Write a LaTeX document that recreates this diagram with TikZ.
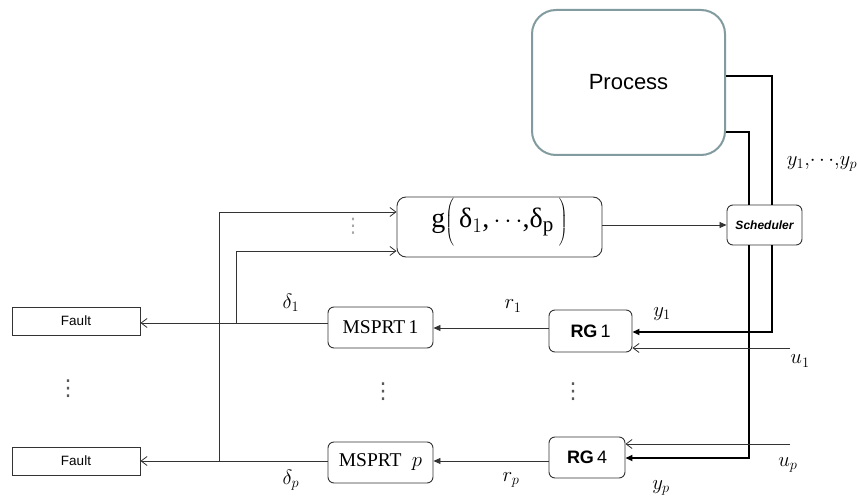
\documentclass[tikz,border=0pt]{standalone}
\usepackage{fontspec}
\usetikzlibrary{arrows.meta}
\newfontfamily\arialf{Liberation Sans}
\newfontfamily\timesf{Liberation Serif}
\newfontfamily\dejavuf{DejaVu Sans}
\newcommand{\bigparL}{$\left(\rule[-18pt]{0pt}{40pt}\right.$}
\newcommand{\bigparR}{$\left.\rule[-18pt]{0pt}{40pt}\right)$}
\tikzset{
  box/.style={draw=black!80, line width=0.9pt, rounded corners=6pt, inner sep=0pt},
  faultbox/.style={draw=black!80, line width=0.9pt, inner sep=0pt, minimum width=128pt, minimum height=28pt, font=\arialf\fontsize{13.5}{15}\selectfont},
  thin/.style={draw=black!80, line width=0.8pt},
  thick/.style={draw=black, line width=2.6pt},
  openarr/.style={-{Straight Barb[length=6pt,width=9pt]}},
  fillarr/.style={-{Triangle[length=7pt,width=6pt]}},
  lbl/.style={font=\fontsize{20}{22}\selectfont, inner sep=0pt},
  vdotsn/.style={font=\dejavuf\fontsize{22}{24}\selectfont, inner sep=0pt, text=black!65}
}
\begin{document}
\begin{tikzpicture}[x=1pt,y=-1pt]
\useasboundingbox[fill=white] (0,0) rectangle (857,497);
% nodes
\node[draw={rgb,255:red,130;green,155;blue,158}, line width=2pt, rounded corners=24pt, minimum width=193pt, minimum height=145pt, inner sep=0pt, font=\arialf\fontsize{22}{25}\selectfont] (proc) at (628.5,82.5) {Process};
\node[box, minimum width=75pt, minimum height=40pt, font=\arialf\bfseries\itshape\fontsize{12}{14}\selectfont] (sch) at (764.5,225) {Scheduler};
\node[box, rounded corners=9pt, minimum width=205pt, minimum height=60pt, text height=22pt, text depth=20pt, font=\timesf\fontsize{28}{32}\selectfont] (g) at (499.5,227) {g\bigparL\kern4pt\mbox{δ}$_1$,$\,\cdots$,\mbox{δ}$_{\mbox{\fontsize{21}{24}\selectfont p}}$\kern4pt\bigparR};
\node[box, minimum width=83pt, minimum height=42pt, font=\arialf\fontsize{18}{20}\selectfont] (rg1) at (590.5,331) {\textbf{RG}\,1};
\node[box, minimum width=76pt, minimum height=41pt, font=\arialf\fontsize{18}{20}\selectfont] (rg4) at (587,457.5) {\textbf{RG}\,4};
\node[box, minimum width=105pt, minimum height=41pt, font=\timesf\fontsize{19.5}{22}\selectfont] (ms1) at (380.5,327.5) {MSPRT\,1};
\node[box, minimum width=105pt, minimum height=41pt, font=\timesf\fontsize{19.5}{22}\selectfont] (msp) at (380.5,462.5) {MSPRT\; $p$};
\node[faultbox] (f1) at (76,321) {Fault};
\node[faultbox] (fp) at (76,461) {Fault};
% coordinates
\coordinate (a1) at (772,76);
\coordinate (a2) at (749,132);
\coordinate (b1) at (772,332);
\coordinate (b2) at (749,458);
\coordinate (u1s) at (790,348);
\coordinate (ups) at (790,444);
\coordinate (j1) at (236,323);
\coordinate (j2) at (219,461);
\coordinate (k1) at (236,251);
\coordinate (k2) at (219,212);
% thick lines
\draw[thick] (proc.east |- a1) -- (a1) -- (a1 |- sch.north);
\draw[thick] (proc.east |- a2) -- (a2) -- (a2 |- sch.north);
\draw[thick, fillarr] (a1 |- sch.south) -- (b1) -- (rg1.east |- b1);
\draw[thick, fillarr] (a2 |- sch.south) -- (b2) -- (rg4.east |- b2);
% u arrows
\draw[thin, openarr] (u1s) -- (rg1.east |- u1s);
\draw[thin, openarr] (ups) -- (rg4.east |- ups);
% r arrows
\draw[thin, fillarr] (rg1.west |- 0,328) -- (ms1.east |- 0,328);
\draw[thin, fillarr] (rg4.west |- 0,461) -- (msp.east |- 0,461);
% delta arrows
\draw[thin, openarr] (ms1.west |- j1) -- (f1.east |- j1);
\draw[thin, openarr] (msp.west |- j2) -- (fp.east |- j2);
\draw[thin, openarr] (j1) -- (k1) -- (g.west |- k1);
\draw[thin, openarr] (j2) -- (k2) -- (g.west |- k2);
% g to scheduler
\draw[thin, fillarr] (g.east |- 0,225) -- (sch.west |- 0,225);
% labels
\node[lbl] (lys) at (822,164) {$y_1{,}\mkern-3mu\cdots\mkern-3mu{,}y_p$};
\node[lbl] (ly1) at (662,314) {$y_1$};
\node[lbl, font=\fontsize{22}{24}\selectfont] (lu1) at (800,361) {$u_1$};
\node[lbl, font=\fontsize{22}{24}\selectfont] (lup) at (788,465) {$u_p$};
\node[lbl] (lyp) at (661,488) {$y_p$};
\node[lbl] (lr1) at (513,306) {$r_1$};
\node[lbl] (lrp) at (511,480) {$r_p$};
\node[lbl, font=\fontsize{22}{24}\selectfont] (ld1) at (291,303) {$\delta_1$};
\node[lbl, font=\fontsize{22}{24}\selectfont] (ldp) at (291,480) {$\delta_p$};
% dots
\node[vdotsn, font=\dejavuf\fontsize{20}{22}\selectfont, text=black!35] (d0) at (353,226) {⋮};
\node[vdotsn] (d1) at (383,392) {⋮};
\node[vdotsn] (d2) at (573,392) {⋮};
\node[vdotsn] (d3) at (68,389) {⋮};
\end{tikzpicture}
\end{document}
